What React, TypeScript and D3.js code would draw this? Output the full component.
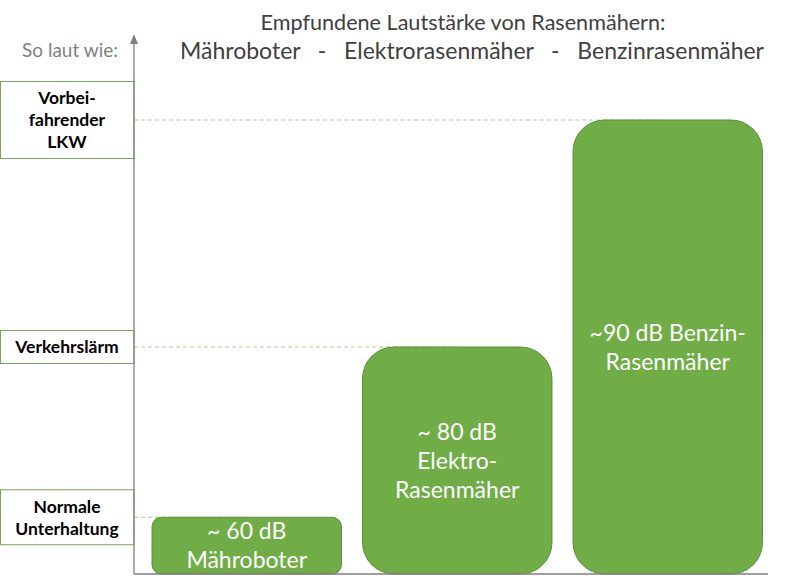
import React from 'react';
import * as d3 from 'd3';

// Bars: mower type, noise level in dB and the text shown inside the bar
const mowers = ['Mähroboter', 'Elektrorasenmäher', 'Benzinrasenmäher'];
const mowerDb = [60, 80, 90];
const mowerLabels = [
  ['~ 60 dB', 'Mähroboter'],
  ['~ 80 dB', 'Elektro-', 'Rasenmäher'],
  ['~90 dB Benzin-', 'Rasenmäher'],
];

// Reference noises on the left side
const refDb = [90, 80, 60];
const refLabels = [
  ['Vorbei-', 'fahrender', 'LKW'],
  ['Verkehrslärm'],
  ['Normale', 'Unterhaltung'],
];

const titleLines = [
  'Empfundene Lautstärke von Rasenmähern:',
  'Mähroboter   -   Elektrorasenmäher   -   Benzinrasenmäher',
];

// perceived loudness in sone (doubles every 10 dB)
const sone = (db: number) => Math.pow(2, (db - 40) / 10);

const W = 809;
const H = 588;
const axisX = 134;
const baseY = 574;
const font = 'Lato, "Open Sans", sans-serif';

export default function App() {
  const y = d3.scaleLinear().domain([0, sone(90)]).range([baseY, 120]);
  const x = d3.scaleBand<string>()
    .domain(mowers)
    .range([141.5, 773])
    .paddingInner(0.1)
    .paddingOuter(0.05);

  const boxLine = 22;

  return (
    <svg width={W} height={H} style={{ position: 'absolute', left: 0, top: 0, background: '#fff' }}>
      {/* title */}
      <text x={463} y={30} textAnchor="middle" fontFamily={font} fontSize={21.6} fill="#404040">
        {titleLines[0]}
      </text>
      <text x={472} y={59} textAnchor="middle" fontFamily={font} fontSize={23} fill="#404040"
        style={{ whiteSpace: 'pre' }}>
        {titleLines[1]}
      </text>
      <text x={118} y={57} textAnchor="end" fontFamily={font} fontSize={19} fill="#7f7f7f">
        So laut wie:
      </text>

      {/* dashed reference lines */}
      {refDb.map((db, i) => (
        <line key={'d' + i} x1={axisX} x2={(x(mowers[mowerDb.indexOf(db)]) ?? 0) + x.bandwidth() / 2}
          y1={y(sone(db))} y2={y(sone(db))}
          stroke="#a9d18e" strokeWidth={1} strokeDasharray="4 3" />
      ))}

      {/* bars */}
      {mowers.map((m, i) => {
        const bx = x(m) ?? 0;
        const by = y(sone(mowerDb[i]));
        const bw = x.bandwidth();
        const bh = baseY - by;
        const r = Math.min(bw, bh) / 6;
        const lines = mowerLabels[i];
        const lh = 29;
        const cy = by + bh / 2;
        return (
          <g key={m}>
            <rect x={bx} y={by} width={bw} height={bh} rx={r} ry={r}
              fill="#70ad47" stroke="#5b8c3a" strokeWidth={1} />
            {lines.map((t, j) => (
              <text key={j} x={bx + bw / 2} y={cy + (j - (lines.length - 1) / 2) * lh}
                dy="0.36em" textAnchor="middle" fontFamily={font} fontSize={23} fill="#fff">
                {t}
              </text>
            ))}
          </g>
        );
      })}

      {/* reference boxes */}
      {refDb.map((db, i) => {
        const lines = refLabels[i];
        const h = lines.length * boxLine + 11;
        const cy = y(sone(db));
        return (
          <g key={'b' + i}>
            <rect x={0.5} y={cy - h / 2} width={axisX - 0.5} height={h}
              fill="#fff" stroke="#77a55a" strokeWidth={1} />
            {lines.map((t, j) => (
              <text key={j} x={axisX / 2} y={cy + (j - (lines.length - 1) / 2) * boxLine}
                dy="0.36em" textAnchor="middle" fontFamily={font} fontWeight="bold"
                fontSize={17.5} fill="#000">
                {t}
              </text>
            ))}
          </g>
        );
      })}

      {/* axes */}
      <line x1={axisX} x2={axisX} y1={40} y2={baseY} stroke="#7f7f7f" strokeWidth={1.3} />
      <path d={`M${axisX - 4},${44} L${axisX},${34} L${axisX + 4},${44} Z`} fill="#7f7f7f" />
      <line x1={axisX} x2={768} y1={baseY} y2={baseY} stroke="#7f7f7f" strokeWidth={1.3} />
    </svg>
  );
}
